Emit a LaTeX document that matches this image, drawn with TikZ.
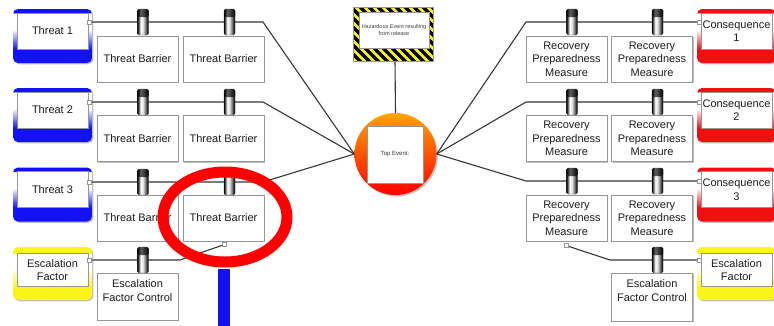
\documentclass[tikz,border=0pt]{standalone}
\usepackage{fontspec}
\setmainfont{Liberation Sans}
\usetikzlibrary{shadows}

\definecolor{fblue}{RGB}{18,18,245}
\definecolor{fred}{RGB}{240,16,16}
\definecolor{fyel}{RGB}{250,244,24}
\definecolor{linec}{RGB}{55,55,55}
\definecolor{boxline}{RGB}{150,150,150}
\definecolor{txt}{RGB}{30,30,30}

% frame gradients: solid band at the bottom, fading to white, thin band on top
\pgfdeclareverticalshading{bluefr}{100bp}{color(0bp)=(fblue); color(38bp)=(fblue); color(56bp)=(white); color(71bp)=(white); color(71.6bp)=(fblue); color(100bp)=(fblue)}
\pgfdeclareverticalshading{redfr}{100bp}{color(0bp)=(fred); color(38bp)=(fred); color(56bp)=(white); color(71bp)=(white); color(71.6bp)=(fred); color(100bp)=(fred)}
\pgfdeclareverticalshading{yelfr}{100bp}{color(0bp)=(fyel); color(37bp)=(fyel); color(55bp)=(white); color(68.5bp)=(white); color(69.3bp)=(fyel); color(100bp)=(fyel)}
% barrier cylinder
\pgfdeclarehorizontalshading{barrel}{100bp}{color(0bp)=(black); color(25bp)=(black); color(31bp)=(black!60); color(40bp)=(white); color(50bp)=(white!88!black); color(62bp)=(black!55); color(70bp)=(black!90); color(75bp)=(black); color(100bp)=(black)}
\pgfdeclarehorizontalshading{barreldark}{100bp}{color(0bp)=(black); color(25bp)=(black); color(40bp)=(black!62); color(52bp)=(black!75); color(75bp)=(black); color(100bp)=(black)}

\tikzset{
  conn/.style={draw=linec, line width=1.1pt},
  boxshadow/.style={drop shadow={shadow xshift=1.3pt, shadow yshift=-1.3pt, opacity=0.35, fill=black!70}},
  ctrlbox/.style={draw=boxline, fill=white, line width=0.7pt, minimum width=81pt,
    minimum height=46pt, inner sep=1pt, align=center, text=txt,
    font=\fontsize{11}{13.5}\selectfont, boxshadow},
  framebox/.style={draw=none, rounded corners=5pt, minimum width=79pt, inner sep=0pt, boxshadow},
  innerbox/.style={draw=boxline, fill=white, line width=0.5pt, minimum width=71pt,
    inner sep=0pt, align=center, text=txt, font=\fontsize{11}{13.5}\selectfont},
  barrelbody/.style={minimum width=11pt, minimum height=26pt, inner sep=0pt,
    rounded corners=1.5pt, shading=barrel, draw=black!70, line width=0.3pt},
  barrelcap/.style={minimum width=11pt, minimum height=8pt, inner sep=0pt,
    rounded corners=1.5pt, shading=barreldark},
  port/.style={draw=boxline, fill=white, line width=0.5pt, minimum size=3.6pt, inner sep=0pt},
}

% barrier symbol sitting on a pathway
\newcommand\barrier[3]{%
  \node[barrelbody] (#1) at (#2,#3) {};
  \node[barrelcap] (#1-cap) at (#2,#3-9) {};
}

\begin{document}
\begin{tikzpicture}[x=1pt,y=-1pt]
\useasboundingbox (0,0) rectangle (774,325);
\clip (0,0) rectangle (774,325);
\fill[white] (0,0) rectangle (774,325);

% ---------- hazard and top event ----------
\node[circle, minimum size=82pt, inner sep=0pt, top color={rgb,255:red,255;green,165;blue,0},
      bottom color={rgb,255:red,255;green,0;blue,0},
      drop shadow={shadow xshift=1.5pt, shadow yshift=-1.5pt, opacity=0.3, fill=black!70}] (te) at (395.5,154) {};

\coordinate (hzb) at (395,61);
\draw[conn] (hzb) -- (te.north);

\begin{scope}
  \clip (353,7) rectangle (433,61);
  \fill[fyel] (353,7) rectangle (433,61);
  \foreach \i in {-9,...,10}
    \draw[black, line width=3.2pt] (353+\i*9,0) -- (353+\i*9+70,70);
\end{scope}
\node[draw=boxline, line width=0.4pt, minimum width=80pt, minimum height=54pt, inner sep=0pt] (hzf) at (393,34) {};
\node[draw=boxline, fill=white, line width=0.5pt, minimum width=70pt, minimum height=36pt,
      inner sep=0pt, align=center, text=black!75, font=\fontsize{5.5}{7}\selectfont] (hz) at (394,30)
      {Hazardous Event resulting\\from release};

\node[draw=boxline, fill=white, line width=0.5pt, minimum width=56pt, minimum height=57pt,
      inner sep=0pt, text=black!80, font=\fontsize{6}{7}\selectfont] (tev) at (395,154.5) {Top Event:};

% ---------- threat side ----------
\foreach \r/\y in {1/22, 2/102, 3/182} {
  \coordinate (tk\r) at (263,\y);
  \node[port] (tp\r) at (89.5,\y) {};
  \draw[conn] (tp\r) -- (tk\r) -- (te.west);
}
% escalation path on the threat side
\coordinate (ek1) at (180,260);
\node[port] (tbq) at (224.5,244.5) {};
\node[port] (ep1) at (89.5,260) {};
\draw[conn] (ep1) -- (ek1) -- (tbq);

% ---------- consequence side ----------
\foreach \r/\y in {1/22, 2/102, 3/181} {
  \coordinate (ck\r) at (526,\y);
  \node[port] (cp\r) at (699,\y) {};
  \draw[conn] (cp\r) -- (ck\r) -- (te.east);
}
\coordinate (ek2) at (610,260);
\node[port] (rpq) at (566,245.5) {};
\node[port] (ep2) at (699,260) {};
\draw[conn] (rpq) -- (ek2) -- (ep2);

% ---------- threats ----------
\foreach \r/\y in {1/36, 2/115, 3/194.5} {
  \node[framebox, minimum height=54pt, shading=bluefr] (tf\r) at (52.5,\y) {};
  \node[innerbox, minimum height=36pt] (t\r) at (52.5,\y-5) {Threat \r};
  \node[port] at (tp\r) {};
}
\node[framebox, minimum height=53pt, shading=yelfr] (eff1) at (52.5,273.5) {};
\node[innerbox, minimum height=33pt] (ef1) at (52.5,270) {Escalation\\Factor};
\node[port] at (ep1) {};

% ---------- consequences ----------
\foreach \r/\y in {1/36, 2/115, 3/194.5} {
  \node[framebox, minimum height=54pt, shading=redfr] (cf\r) at (736.5,\y) {};
  \node[innerbox, minimum height=36pt] (c\r) at (736.5,\y-5) {Consequence\\\r};
  \node[port] at (cp\r) {};
}
\node[framebox, minimum height=53pt, shading=yelfr] (eff2) at (736.5,273.5) {};
\node[innerbox, minimum height=33pt] (ef2) at (736.5,270) {Escalation\\Factor};
\node[port] at (ep2) {};

% ---------- barriers ----------
\foreach \r/\y in {1/59, 2/138.5, 3/218} {
  \node[ctrlbox] (tb\r a) at (137.5,\y) {Threat Barrier};
  \node[ctrlbox] (tb\r b) at (223.5,\y) {Threat Barrier};
  \node[ctrlbox] (rp\r a) at (566.5,\y) {Recovery\\Preparedness\\Measure};
  \node[ctrlbox] (rp\r b) at (652,\y) {Recovery\\Preparedness\\Measure};
}
\node[port] at (tbq) {};
\node[port] at (rpq) {};

\node[ctrlbox, minimum height=47pt] (efc1) at (137.5,296.5) {};
\node[align=center, text=txt, font=\fontsize{11}{13.5}\selectfont] (efc1t) at (137.5,290.5) {Escalation\\Factor Control};
\node[ctrlbox, minimum height=48pt] (efc2) at (652,297) {};
\node[align=center, text=txt, font=\fontsize{11}{13.5}\selectfont] (efc2t) at (652,290.5) {Escalation\\Factor Control};

\foreach \r/\y in {1/22, 2/102, 3/182} {
  \barrier{bl\r a}{143}{\y}
  \barrier{bl\r b}{229.5}{\y}
}
\foreach \r/\y in {1/22, 2/102, 3/181} {
  \barrier{br\r a}{572}{\y}
  \barrier{br\r b}{657.5}{\y}
}
\barrier{ble}{143}{260}
\barrier{bre}{657.5}{260}

% ---------- highlight marks ----------
\draw[red, line width=11pt] (225,217) ellipse [x radius=62, y radius=45];
\fill[fblue] (218,269) rectangle (230,330);
\end{tikzpicture}
\end{document}
